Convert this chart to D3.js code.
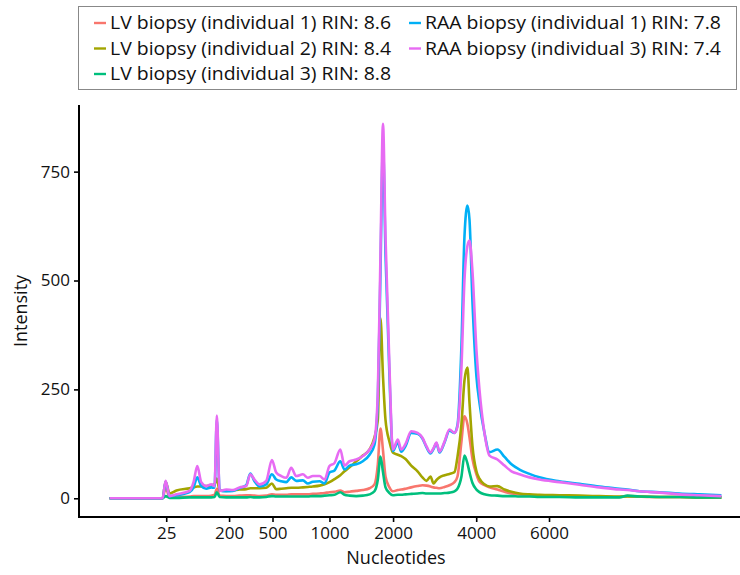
<!DOCTYPE html>
<html>
<head>
<meta charset="utf-8">
<script src="https://cdn.jsdelivr.net/npm/d3@7"></script>
<style>
  body { margin: 0; background: #fff; }
  svg { display: block; font-family: "Open Sans", sans-serif; }
</style>
</head>
<body>
<svg id="chart"></svg>
<script>
// series labels and colours (ggplot default hue palette)
const seriesNames = [
  "LV biopsy (individual 1) RIN: 8.6",
  "LV biopsy (individual 2) RIN: 8.4",
  "LV biopsy (individual 3) RIN: 8.8",
  "RAA biopsy (individual 1) RIN: 7.8",
  "RAA biopsy (individual 3) RIN: 7.4"
];
const seriesColors = ["#F8766D", "#A3A500", "#00BF7D", "#00B0F6", "#E76BF3"];

// migration time (s), shared by all traces
const time = [
  19.00, 23.42, 23.67, 24.00, 24.58, 25.67, 26.00, 26.31, 26.64, 27.06,
  27.48, 27.75, 27.94, 28.17, 28.73, 29.28, 29.83, 30.39, 30.73, 31.08,
  31.50, 32.06, 32.53, 32.89, 33.31, 33.73, 34.14, 34.56, 35.11, 35.53,
  35.94, 36.50, 36.92, 37.33, 37.75, 38.23, 38.58, 39.00, 39.56, 40.11,
  40.67, 41.08, 41.36, 41.58, 41.79, 42.00, 42.33, 42.61, 43.03, 43.31,
  43.67, 44.14, 44.67, 45.08, 45.42, 45.75, 46.00, 46.25, 46.50, 46.92,
  47.33, 47.75, 48.00, 48.33, 48.58, 48.83, 49.00, 49.25, 49.58, 49.83,
  50.25, 50.67, 51.33, 51.92, 52.50, 53.17, 54.00, 54.83, 56.50, 58.17,
  59.83, 61.50, 62.17, 63.17, 64.83, 66.50, 68.17, 70.00
];

// fluorescence intensity per trace
const lv1 = [
  0, 0, 25, 2, 3, 4, 5, 5, 5, 5,
  6, 8, 22, 6, 5, 5, 6, 7, 7, 6,
  5, 6, 9, 8, 8, 8, 9, 9, 9, 9,
  10, 11, 12, 14, 15, 18, 14, 15, 17, 19,
  23, 32, 78, 160, 110, 50, 25, 16, 19, 20,
  22, 25, 28, 30, 29, 27, 25, 24, 23, 26,
  30, 37, 50, 130, 188, 170, 140, 90, 55, 38,
  30, 25, 20, 15, 11, 9, 7, 6, 5, 4,
  4, 3, 5, 4, 3, 3, 2, 2
];
const lv2 = [
  0, 0, 38, 11, 18, 23, 25, 27, 27, 28,
  30, 32, 45, 18, 17, 18, 20, 21, 23, 23,
  23, 24, 34, 21, 22, 23, 24, 24, 25, 26,
  27, 29, 32, 37, 44, 53, 62, 71, 85, 98,
  112, 140, 180, 414, 280, 180, 130, 105, 100, 97,
  90, 75, 62, 48, 40, 50, 34, 42, 48, 53,
  56, 60, 95, 170, 270, 300, 220, 120, 62, 45,
  32, 27, 28, 20, 15, 11, 9, 8, 7, 6,
  5, 4, 4, 4, 3, 3, 2, 2
];
const lv3 = [
  0, 0, 5, 1, 1, 2, 2, 2, 2, 2,
  2, 3, 14, 3, 2, 2, 2, 2, 3, 2,
  2, 3, 5, 4, 4, 4, 4, 4, 4, 4,
  5, 5, 6, 7, 8, 14, 8, 6, 5, 6,
  9, 16, 43, 96, 60, 25, 12, 7, 8, 8,
  9, 10, 11, 12, 11, 11, 11, 11, 11, 12,
  13, 16, 22, 50, 98, 80, 60, 35, 20, 14,
  9, 7, 6, 5, 5, 4, 4, 3, 3, 2,
  2, 2, 6, 4, 3, 3, 2, 2
];
const raa1 = [
  0, 0, 38, 5, 7, 14, 25, 48, 28, 22,
  25, 24, 180, 18, 16, 17, 23, 30, 57, 39,
  27, 32, 55, 43, 39, 37, 48, 40, 41, 34,
  38, 39, 34, 59, 64, 85, 66, 75, 78, 85,
  100, 123, 226, 520, 810, 560, 280, 108, 128, 107,
  120, 150, 148, 137, 117, 103, 113, 126, 105, 128,
  155, 150, 168, 350, 600, 672, 640, 450, 280, 220,
  150, 106, 112, 95, 78, 66, 56, 48, 39, 33,
  27, 22, 20, 16, 14, 11, 9, 7
];
const raa3 = [
  0, 0, 40, 5, 9, 17, 37, 74, 37, 28,
  32, 28, 190, 17, 20, 19, 25, 28, 55, 43,
  32, 40, 88, 59, 51, 47, 70, 51, 55, 47,
  51, 51, 43, 74, 81, 112, 75, 85, 89, 97,
  112, 135, 242, 560, 860, 600, 300, 112, 135, 112,
  125, 154, 150, 139, 119, 105, 115, 128, 107, 130,
  158, 150, 165, 300, 500, 580, 592, 520, 340, 250,
  150, 98, 89, 75, 62, 55, 48, 43, 37, 31,
  25, 20, 19, 16, 13, 9, 7, 5
];

// ladder peaks: time (s) and size label
const ladderTimes = [23.72, 28.96, 32.58, 37.33, 42.63, 49.56, 55.63];
const ladderLabels = ["25", "200", "500", "1000", "2000", "4000", "6000"];

const yTicks = [0, 250, 500, 750];

const traces = [lv1, lv2, lv3, raa1, raa3];

const width = 740, height = 575;
const panel = { left: 79, right: 752, top: 105, bottom: 517 };

const svg = d3.select('#chart')
    .attr('width', width)
    .attr('height', height);

// ggplot-like 5% expansion
const expand = ([a, b]) => [a - (b - a) * 0.05, b + (b - a) * 0.05];

const x = d3.scaleLinear()
    .domain(expand(d3.extent(time)))
    .range([panel.left, panel.right]);

const y = d3.scaleLinear()
    .domain(expand([0, d3.max(traces, t => d3.max(t))]))
    .range([panel.bottom, panel.top]);

const line = d3.line()
    .x((d, i) => x(time[i]))
    .y(d => y(d))
    .curve(d3.curveMonotoneX);

svg.append('g')
  .selectAll('path')
  .data(traces)
  .join('path')
    .attr('d', d => line(d))
    .attr('fill', 'none')
    .attr('stroke', (d, i) => seriesColors[i])
    .attr('stroke-width', 2.6)
    .attr('stroke-linejoin', 'round');

// axes
const xAxis = d3.axisBottom(x)
    .tickValues(ladderTimes)
    .tickFormat((d, i) => ladderLabels[i])
    .tickSize(5)
    .tickPadding(5);

const yAxis = d3.axisLeft(y)
    .tickValues(yTicks)
    .tickSize(5)
    .tickPadding(4);

const gx = svg.append('g')
    .attr('transform', `translate(0, ${panel.bottom})`)
    .call(xAxis);

const gy = svg.append('g')
    .attr('transform', `translate(${panel.left}, 0)`)
    .call(yAxis);

[gx, gy].forEach(g => {
  g.select('.domain').remove();
  g.selectAll('.tick line').attr('stroke', '#000').attr('stroke-width', 1.6);
  g.selectAll('.tick text')
    .attr('fill', '#111')
    .style('font-size', '17px')
    .style('font-family', '"Open Sans", sans-serif');
});

svg.append('line')
    .attr('x1', panel.left).attr('x2', panel.right)
    .attr('y1', panel.bottom).attr('y2', panel.bottom)
    .attr('stroke', '#000').attr('stroke-width', 2);

svg.append('line')
    .attr('x1', panel.left).attr('x2', panel.left)
    .attr('y1', panel.top).attr('y2', panel.bottom + 1)
    .attr('stroke', '#000').attr('stroke-width', 2);

svg.append('text')
    .attr('x', 396)
    .attr('y', 564)
    .attr('text-anchor', 'middle')
    .style('font-size', '18px')
    .attr('fill', '#111')
    .text('Nucleotides');

svg.append('text')
    .attr('transform', `translate(27, ${(panel.top + panel.bottom) / 2}) rotate(-90)`)
    .attr('text-anchor', 'middle')
    .style('font-size', '18px')
    .attr('fill', '#111')
    .text('Intensity');

// legend: two columns, filled column-wise
const legend = svg.append('g');

legend.append('rect')
    .attr('x', 78.5).attr('y', 6.5)
    .attr('width', 658).attr('height', 83)
    .attr('fill', '#fff')
    .attr('stroke', '#888')
    .attr('stroke-width', 1);

const colX = [94, 409];
const rowY = d3.scalePoint().domain([0, 1, 2]).range([23, 74]);

const item = legend.selectAll('g.item')
  .data(seriesNames)
  .join('g')
    .attr('class', 'item')
    .attr('transform', (d, i) => `translate(${colX[Math.floor(i / 3)]}, ${rowY(i % 3)})`);

item.append('line')
    .attr('x1', 0).attr('x2', 12)
    .attr('stroke', (d, i) => seriesColors[i])
    .attr('stroke-width', 2.4);

item.append('text')
    .attr('transform', 'translate(16, 0) scale(1.08, 1)')
    .attr('dy', '0.35em')
    .style('font-size', '18px')
    .attr('fill', '#111')
    .text(d => d);
</script>
</body>
</html>
